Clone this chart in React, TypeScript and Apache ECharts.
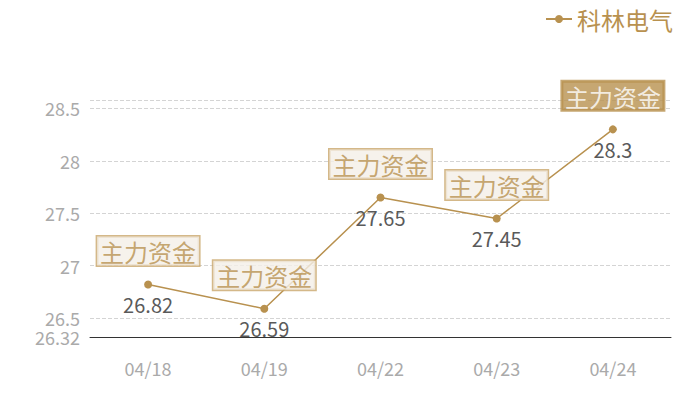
import React, { useEffect, useRef } from "react";
import * as echarts from "echarts";

const categories = ["04/18", "04/19", "04/22", "04/23", "04/24"];
const prices = [26.82, 26.59, 27.65, 27.45, 28.3];
const tagText = "主力资金";
const seriesName = "科林电气";
const yMin = 26.32;
const yMax = 28.58;

const GOLD = "#b8914f";
const FONT = "'Noto Sans CJK SC', 'Noto Sans', sans-serif";

export default function App() {
  const ref = useRef<HTMLDivElement>(null);
  useEffect(() => {
    const chart = echarts.init(ref.current!, null, { renderer: "svg" });
    const last = prices.length - 1;
    chart.setOption({
      animation: false,
      textStyle: { fontFamily: FONT },
      legend: {
        data: [seriesName],
        right: 22,
        top: 2,
        itemWidth: 26,
        itemHeight: 10,
        itemGap: 6,
        textStyle: { color: GOLD, fontSize: 24, fontFamily: FONT },
      },
      grid: { left: 90, right: 29, top: 100, bottom: 63 },
      xAxis: {
        type: "category",
        data: categories,
        boundaryGap: true,
        axisLine: { lineStyle: { color: "#333", width: 1 } },
        axisTick: { show: false },
        axisLabel: { color: "#aaa", fontSize: 18, margin: 22, fontFamily: FONT },
      },
      yAxis: {
        type: "value",
        min: yMin,
        max: yMax,
        axisLine: { show: false },
        axisTick: { show: false },
        axisLabel: { color: "#aaa", fontSize: 18, showMaxLabel: false, margin: 10, fontFamily: FONT },
        splitLine: { lineStyle: { color: "#d4d4d4", type: "dashed", width: 1 } },
      },
      series: [
        {
          name: seriesName,
          type: "line",
          data: prices,
          symbol: "circle",
          symbolSize: 8,
          itemStyle: { color: GOLD },
          lineStyle: { color: GOLD, width: 1.5 },
          label: {
            show: true,
            position: "bottom",
            distance: 6,
            color: "#5a5a5a",
            fontSize: 20,
            fontFamily: FONT,
          },
          z: 3,
        },
        {
          name: "tags",
          type: "scatter",
          data: prices.map((v, i) => ({
            value: v,
            label:
              i === last
                ? { backgroundColor: GOLD, color: "#fff", borderColor: GOLD }
                : undefined,
          })),
          symbolSize: 0,
          silent: true,
          label: {
            show: true,
            position: "top",
            distance: 19,
            formatter: () => tagText,
            color: GOLD,
            fontSize: 24,
            fontFamily: FONT,
            backgroundColor: "#f4efe7",
            borderColor: "#c9a66b",
            borderWidth: 1.5,
            padding: [3, 3, 2, 3],
          },
          z: 4,
        },
      ],
    });
    return () => chart.dispose();
  }, []);
  return <div ref={ref} style={{ width: 700, height: 400, position: "absolute", left: 0, top: 0 }} />;
}
